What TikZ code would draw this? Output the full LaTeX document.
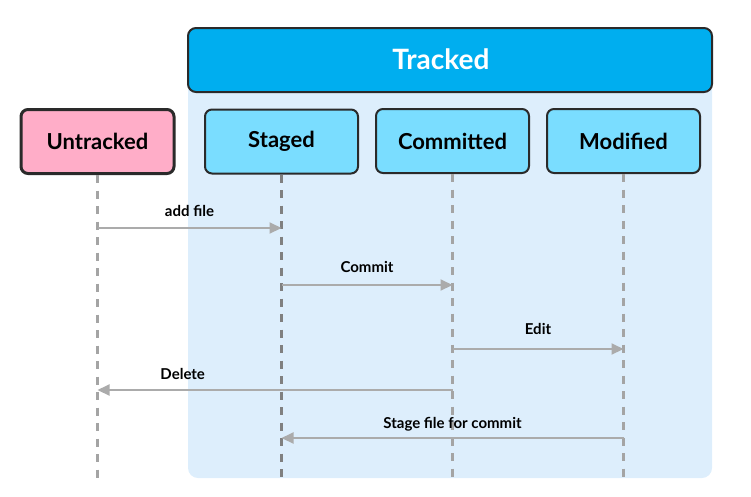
\documentclass[tikz,border=0pt]{standalone}
\usepackage{fontspec}
\setmainfont{Lato}
\usetikzlibrary{arrows.meta}
\definecolor{trackblue}{HTML}{00AEEF}
\definecolor{trackbg}{HTML}{DDEEFC}
\definecolor{statecyan}{HTML}{7ADDFF}
\definecolor{untrackpink}{HTML}{FFADC8}
\definecolor{boxline}{HTML}{2A2A2A}
\definecolor{lifegray}{HTML}{A4A4A4}
\definecolor{lifedark}{HTML}{808080}
\definecolor{msggray}{HTML}{ABABAB}
\tikzset{
  statebox/.style={draw=boxline,line width=2pt,rounded corners=7pt,fill=statecyan,
    minimum width=153pt,minimum height=64pt,font=\bfseries\fontsize{22}{26}\selectfont},
  lifeline/.style={lifegray,line width=2.4pt,dash pattern=on 8pt off 7.5pt},
  msg/.style={msggray,line width=2pt,-{Triangle[length=12pt,width=11pt]}},
  msglabel/.style={black,font=\bfseries\fontsize{15}{18}\selectfont,anchor=base,inner sep=0pt}
}
\begin{document}
\begin{tikzpicture}[x=1pt,y=-1pt]
    \useasboundingbox (0,0) rectangle (751,496);
    % tracked area
    \fill[trackbg,rounded corners=10pt] (188,60) rectangle (712,478);
    \node[draw=boxline,line width=2pt,rounded corners=8pt,fill=trackblue,
      minimum width=524pt,minimum height=64pt] (tracked) at (450,60) {};
    \node[text=white,font=\bfseries\fontsize{28}{32}\selectfont] (trackedlabel) at (441,59) {Tracked};
    % states
    \node[statebox,fill=untrackpink,line width=3pt] (untracked) at (97.5,141.5) {Untracked};
    \node[statebox] (staged) at (281.5,141.5) {Staged};
    \node[statebox] (committed) at (452.5,141) {Committed};
    \node[statebox] (modified) at (623.5,141) {Modified};
    % lifelines
    \foreach \s in {untracked,committed,modified}{
        \coordinate (\s-end) at (\s.south |- 0,478);
        \draw[lifeline] (\s.south) -- (\s-end);
    }
    \coordinate (staged-end) at (staged.south |- 0,478);
    \draw[lifeline,lifedark] (staged.south) -- (staged-end);
    % transitions
    \draw[msg] (untracked.south |- 0,228) -- (staged.south |- 0,228)
        node[msglabel,midway,yshift=12pt] {add file};
    \draw[msg] (staged.south |- 0,285) -- (committed.south |- 0,285)
        node[msglabel,midway,yshift=13pt] {Commit};
    \draw[msg] (committed.south |- 0,349) -- (modified.south |- 0,349)
        node[msglabel,midway,yshift=15pt] {Edit};
    \draw[msg] (committed.south |- 0,390) -- (untracked.south |- 0,390)
        node[msglabel,pos=0.76,yshift=11pt] {Delete};
    \draw[msg] (modified.south |- 0,438) -- (staged.south |- 0,438)
        node[msglabel,midway,yshift=10pt] {Stage file for commit};
\end{tikzpicture}
\end{document}
